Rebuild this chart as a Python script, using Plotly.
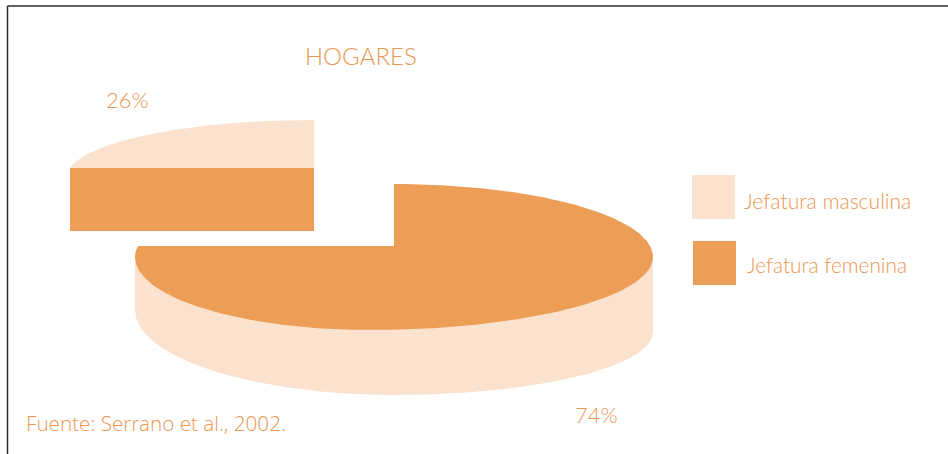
import numpy as np
import plotly.graph_objects as go

# Household headship shares, in percent
categories = ["Jefatura masculina", "Jefatura femenina"]
shares = [26, 74]
share_labels = ["26%", "74%"]
title_text = "HOGARES"
source_text = "Fuente: Serrano et al., 2002."

DARK = "#ed9e56"
LIGHT = "#fae2ce"
TEXT = "#ec9650"
LINE = "#2b2b2b"

# Oblique projection compresses the angle of the small slice lying flat on the table
FORESHORTEN = 0.8686


def small_slice_sweep(share):
    return share * 3.6 * FORESHORTEN


def rim(cx, cy, rx, ry, start_deg, end_deg, n=360):
    t = np.radians(np.linspace(start_deg, end_deg, n))
    return cx + rx * np.cos(t), cy - ry * np.sin(t)


fig = go.Figure()


def polygon(x, y, color, name):
    fig.add_trace(go.Scatter(x=x, y=y, mode="lines", fill="toself", fillcolor=color,
                             line=dict(width=0, color=color), name=name,
                             hoverinfo="name", showlegend=False))


# Large slice: side wall first, then the top face over it
cx, cy, rx, ry = 394, 257, 259, 73
apex_y = 246
front_x = 370  # perspective moves the nearest rim point left of the centre

# Wall's lower edge: two quarter ellipses of different depth meeting at the front
u = np.linspace(-1, 1, 401)
wall_x = cx + rx * u
wall_y = np.where(u < 0, 310 + 85 * np.sqrt(1 - u**2), 332 + 63 * np.sqrt(1 - u**2))
polygon(np.r_[cx - rx, wall_x, cx + rx], np.r_[cy, wall_y, cy], LIGHT, categories[1] + " (lateral)")

arc_start = 90 + small_slice_sweep(shares[0])
x_a, y_a = rim(cx, cy, rx, ry, arc_start, 180, 60)
x_b, y_b = rim(front_x, cy, front_x - (cx - rx), ry, 180, 270, 120)
x_c, y_c = rim(front_x, cy, (cx + rx) - front_x, ry, 270, 360, 120)
x_d, y_d = rim(cx, cy, rx, ry, 0, 90, 120)
x_arc = np.r_[x_a, x_b, x_c, x_d]
y_arc = np.r_[y_a, y_b, y_c, y_d]
polygon(np.r_[x_arc, cx, x_arc[0]], np.r_[y_arc, apex_y, y_arc[0]], DARK, categories[1])

# Small slice pulled out to the upper left, with its cut face in the darker tone
cx2, cy2, rx2, ry2 = 314, 176.5, 246.8, 56.5
face_depth = 63
x_arc2, y_arc2 = rim(cx2, cy2, rx2, ry2, 90, 90 + small_slice_sweep(shares[0]))
apex2 = y_arc2[-1]
polygon(np.r_[x_arc2, cx2, x_arc2[0]], np.r_[y_arc2, apex2, y_arc2[0]], LIGHT, categories[0])
polygon([x_arc2[-1], cx2, cx2, x_arc2[-1], x_arc2[-1]],
        [apex2, apex2, apex2 + face_depth, apex2 + face_depth, apex2], DARK, categories[0] + " (corte)")

# Legend swatches
swatches = [(692, 175, 735, 219, LIGHT), (693, 241, 736, 285, DARK)]
shapes = [dict(type="rect", x0=a, y0=b, x1=c, y1=d, fillcolor=col, line=dict(width=0), layer="below")
          for a, b, c, d, col in swatches]

# Frame open at the bottom and right
for a, b, c, d in [(7.5, 6, 948, 6), (7.5, 6, 7.5, 454)]:
    shapes.append(dict(type="line", x0=a, y0=b, x1=c, y1=d, line=dict(color=LINE, width=1.5)))


def label(x, y, text, size, family="Lato Light", anchor="left"):
    fig.add_annotation(x=x, y=y, text=text, showarrow=False, xanchor=anchor, yanchor="middle",
                       font=dict(family=family, size=size, color=TEXT), xref="x", yref="y")


label(361, 55, title_text, 24, anchor="center")
label(127, 99, share_labels[0], 22, anchor="center")
label(596, 414, share_labels[1], 22, anchor="center")
label(742, 200, categories[0], 21.1)
label(745, 264, categories[1], 20.8)
label(24, 423, source_text, 20.7, family="Open Sans Light")

fig.update_layout(
    width=948, height=454, margin=dict(l=0, r=0, t=0, b=0),
    paper_bgcolor="white", plot_bgcolor="white", shapes=shapes, showlegend=False,
    xaxis=dict(range=[0, 948], visible=False, fixedrange=True),
    yaxis=dict(range=[454, 0], visible=False, fixedrange=True),
)
fig.write_html("out.html")
